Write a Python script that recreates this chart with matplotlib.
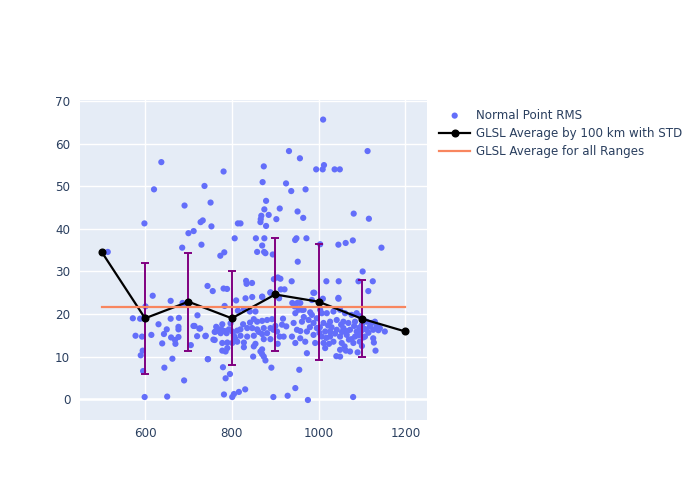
import matplotlib.pyplot as plt
import numpy as np

# scatter: range (km) and normal point RMS
pts_x = [
    514, 598.5, 601, 617.6, 620.6, 637.5, 659, 688, 571.8, 588.6, 595.5, 659, 678, 720.8,
    631, 650, 677, 677, 714, 725, 578, 593, 614.5, 643.5, 660, 677, 720, 639.5, 669, 670,
    705.5, 594.5, 590, 663, 644.5, 595.5, 690, 599, 651, 686.4, 691, 712, 685.6, 700, 730,
    727, 739, 744.5, 757.5, 760.5, 766.7, 711.6, 733, 728, 737, 751, 753, 756, 744, 781,
    773.5, 782.6, 789, 781, 814, 820, 806.6, 810, 831.6, 847, 870, 889, 909, 783.4, 827.8,
    841.5, 854.5, 814, 850.7, 858.4, 869.8, 881.3, 892.8, 778, 775.8, 783.4, 793.4, 801,
    812.5, 820, 835.4, 847, 858.4, 873.7, 889, 900.4, 915.7, 925.6, 739.9, 762.8, 774.3,
    788, 804.9, 820.1, 835.4, 850.7, 869.8, 881.3, 904.2, 910.4, 919.5, 760.5, 778, 789.6,
    801, 812.5, 827.8, 854.5, 873.7, 889, 905.8, 778, 785.7, 789.6, 827.8, 850.7, 869.8,
    866, 869.8, 745.2, 849.2, 873.7, 877.5, 891.2, 779.6, 795.7, 785.7, 830.8, 816.3,
    804.9, 781.9, 801, 895.8, 928.7, 833, 834, 846.6, 855.5, 875, 870, 858.4, 874.5, 877.5,
    894.4, 866.7, 866, 879, 902.7, 868, 885, 875, 910.5, 879, 871, 873.7, 925, 931.8, 957,
    937, 970, 951.6, 964.6, 946, 949, 972, 952, 897, 906, 912, 938, 921.5, 889, 870, 913,
    994.5, 1010.5, 1012.5, 1009.5, 1037, 1049, 1113, 1081, 1116, 1045.7, 1062.5, 1079,
    1145, 1003.7, 1101.6, 1018, 1046.4, 1092, 1125, 1114.7, 1045.7, 1009.9, 988, 957.8,
    961.6, 980.7, 951, 939.4, 944.8, 954, 1003.6, 990, 1045.8, 984.6, 946.4, 965.5, 984.6,
    1007.5, 1019, 1034.3, 1049.6, 1061, 1076.3, 1087.8, 942.5, 961.7, 977, 988.4, 1011.4,
    1026.6, 1041.9, 1057.2, 1068.7, 1084, 950.2, 973.1, 996.1, 1015.2, 1026.6, 1041.9,
    1057.2, 1072.5, 1087.8, 938.7, 957.8, 988.4, 1007.5, 1026.6, 1049.6, 1064.9, 1084,
    946.4, 969.3, 992.2, 1011.4, 1034.3, 1053.4, 1080.2, 973.1, 1015.2, 1049.6, 1072.5,
    1049.6, 1063, 1041, 955.5, 946.4, 975.4, 1079.7, 1110.7, 1122.2, 1129.8, 1118.3,
    1133.6, 1141.3, 1152.7, 1110.7, 1126, 1106.9, 1126, 1127.5, 1131.3, 1095, 1100, 1098,
    1103, 1092, 1100, 1095, 1090,
    # extra points in the dense band
    1003, 1022, 1030, 1038, 1054, 1066, 1070, 1082, 958, 966, 980, 996, 1002, 1018,
    1060, 1076, 1094, 1106, 1115, 1138, 826, 842, 862, 896, 918, 764, 797, 808, 1024, 1052,
]
pts_y = [
    34.6, 41.3, 21.8, 24.3, 49.3, 55.7, 23.1, 22.3, 19.0, 18.9, 19.0, 18.9, 19.1, 19.7,
    17.6, 16.4, 17.0, 16.4, 17.2, 16.6, 14.9, 14.7, 15.1, 15.3, 14.5, 14.6, 14.8, 13.1, 13.9, 13.0,
    12.7, 11.4, 10.3, 9.5, 7.4, 6.6, 4.4, 0.5, 0.6, 22.6, 45.5, 39.5, 35.6, 39.0, 36.3,
    16.6, 14.8, 9.4, 14.0, 15.8, 16.6, 17.2, 42.0, 41.6, 50.1, 46.2, 40.6, 25.4, 26.6, 53.5,
    33.7, 34.5, 25.9, 26.0, 41.3, 41.3, 37.8, 23.2, 23.7, 24.0, 24.1, 25.1, 23.7, 21.9, 21.1,
    20.6, 20.6, 20.8, 18.8, 18.2, 18.4, 18.6, 18.8, 17.6, 16.4, 16.0, 16.4, 15.9,
    16.1, 16.4, 16.7, 16.7, 16.4, 16.7, 16.7, 17.2, 17.5, 17.1, 14.9, 15.9, 15.5,
    15.5, 14.9, 14.9, 14.7, 14.9, 15.3, 15.5, 15.9, 14.7, 14.7, 13.9, 13.2, 13.3,
    13.2, 13.5, 13.3, 13.0, 14.1, 14.1, 13.0, 11.4, 11.2, 12.0, 12.2, 12.4, 11.7,
    11.2, 10.6, 9.4, 10.0, 10.0, 9.1, 7.4, 7.5, 5.9, 4.9, 2.3, 1.7,
    1.2, 1.1, 0.5, 0.5, 0.8, 27.8, 27.1, 27.3, 37.8, 37.8, 36.1, 34.6, 34.6, 34.3,
    34.0, 42.3, 41.6, 40.7, 42.3, 43.1, 43.3, 44.6, 44.8, 46.6, 51.0, 54.7, 50.7, 58.3, 56.6,
    48.9, 49.3, 44.1, 42.6, 37.4, 37.8, 37.8, 32.3, 28.2, 28.6, 28.3, 27.7, 25.8, 25.0, 24.0, 25.8,
    54.0, 65.7, 55.0, 54.0, 54.0, 54.0, 58.3, 43.6, 42.4, 36.3, 36.7, 37.3,
    35.6, 36.4, 30.0, 27.7, 27.7, 27.7, 27.7, 25.4, 23.8, 23.6, 25.0, 22.6,
    21.0, 20.4, 22.6, 22.6, 21.8, 21.0, 21.0, 25.0, 23.6, 23.3, 20.2, 21.0, 19.8,
    20.2, 20.2, 20.6, 21.0, 20.2, 19.8, 20.2, 17.9, 18.2, 18.6, 17.9, 17.9,
    18.2, 18.6, 18.2, 17.9, 18.2, 16.3, 15.9, 16.7, 15.9, 15.9, 16.3,
    16.7, 16.3, 15.9, 14.7, 14.3, 15.1, 14.7, 14.7, 14.7, 15.1, 14.7,
    13.2, 13.5, 13.2, 13.2, 13.5, 13.2, 13.2, 10.8, 12.0, 11.6, 11.2,
    10.0, 11.4, 10.1, 6.9, 2.6, -0.2, 0.5, 18.2, 17.9, 18.2, 17.1,
    17.1, 16.7, 15.9, 16.3, 16.3, 14.7, 14.3, 13.3, 11.4, 19.5, 17.5, 16.0,
    14.5, 15.0, 12.5, 13.5, 11.0,
    16.9, 17.3, 16.9, 15.4, 15.8, 16.0, 14.0, 17.2, 16.0, 19.3, 16.9, 19.0, 15.6, 14.4,
    12.4, 14.1, 16.8, 16.5, 15.6, 16.2, 17.6, 18.0, 15.8, 16.3, 18.9, 17.0, 17.8, 14.2, 13.0, 17.5,
]

# averages by 100 km bins
bin_x = [500, 600, 700, 800, 900, 1000, 1100, 1200]
bin_mean = [34.6, 19.0, 22.9, 19.0, 24.6, 22.9, 18.9, 15.9]
bin_std = [0, 13.1, 11.5, 11.0, 13.3, 13.6, 9.0, 0]
overall_mean = 21.6

text_col = "#2a3f5f"
plt.rcParams["font.family"] = ["DejaVu Sans"]
plt.rcParams["font.size"] = 8.6

fig = plt.figure(figsize=(7, 5), dpi=100)
ax = fig.add_axes([0.1143, 0.16, 0.4957, 0.64])
ax.set_facecolor("#E5ECF6")

ax.scatter(pts_x, pts_y, s=20, color="#636EFA", edgecolors="none",
           label="Normal Point RMS", zorder=2)

yerr = [s if s > 0 else np.nan for s in bin_std]
ax.errorbar(bin_x, bin_mean, yerr=yerr, fmt="none", ecolor="purple",
            elinewidth=1.4, capsize=3, capthick=1.4, zorder=3)
ax.plot(bin_x, bin_mean, color="black", lw=1.6, marker="o", markersize=4.8,
        label="GLSL Average by 100 km with STD", zorder=4)
ax.plot([bin_x[0], bin_x[-1]], [overall_mean, overall_mean], color="#F8865F",
        lw=1.6, label="GLSL Average for all Ranges", zorder=5)

ax.set_xlim(450, 1250)
ax.set_ylim(-4.9, 70.3)
ax.set_xticks([600, 800, 1000, 1200])
ax.set_yticks(range(0, 71, 10))
ax.grid(True, color="white", lw=1)
ax.axhline(0, color="white", lw=1.8, zorder=1)
ax.set_axisbelow(True)
for sp in ax.spines.values():
    sp.set_visible(False)
ax.tick_params(length=0, colors=text_col, labelsize=8.6)
ax.tick_params(axis="y", pad=7)
ax.tick_params(axis="x", pad=5)

leg = ax.legend(loc="upper left", bbox_to_anchor=(0.612, 0.804), bbox_transform=fig.transFigure,
                frameon=False, handlelength=2.6, labelspacing=0.45, handletextpad=0.5,
                fontsize=8.6)
for t in leg.get_texts():
    t.set_color(text_col)

fig.savefig("out.png", dpi=100)
